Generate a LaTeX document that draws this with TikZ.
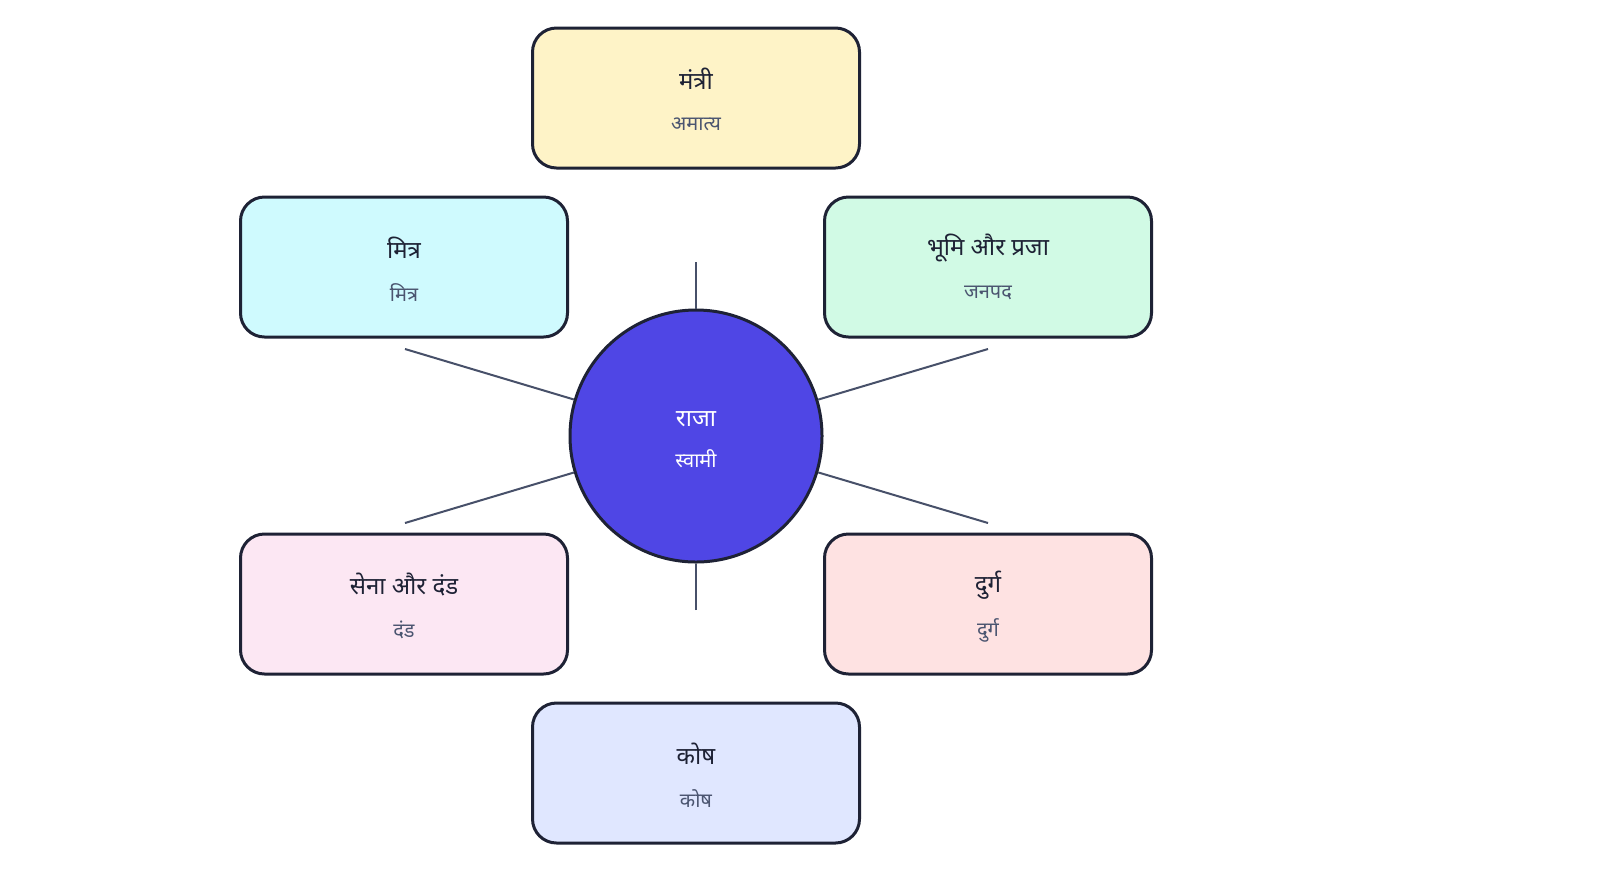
\documentclass[tikz,border=0pt]{standalone}
\usepackage{fontspec}
\newfontfamily\deva[Script=Devanagari]{Noto Sans}
\definecolor{bord}{HTML}{1E2235}
\definecolor{sub}{HTML}{4B5570}
\definecolor{ln}{HTML}{475069}
\definecolor{c1}{HTML}{FEF3C7}
\definecolor{c2}{HTML}{CFFAFE}
\definecolor{c3}{HTML}{D1FAE5}
\definecolor{c4}{HTML}{FCE7F3}
\definecolor{c5}{HTML}{FEE2E2}
\definecolor{c6}{HTML}{E0E7FF}
\definecolor{king}{HTML}{4F46E5}
\begin{document}
\begin{tikzpicture}[x=0.5pt,y=-0.5pt,
 box/.style={draw=bord,line width=1.5pt,rounded corners=12pt,minimum width=163.5pt,minimum height=70pt},
 ttl/.style={font=\deva\bfseries\fontsize{12}{14}\selectfont,text=bord},
 st/.style={font=\deva\bfseries\fontsize{10}{12}\selectfont,text=sub},
 conn/.style={draw=ln,line width=1pt}]
\useasboundingbox[fill=white] (0,0) rectangle (1600,890);
\coordinate (pt) at (696,262);
\coordinate (pb) at (696,610);
\coordinate (pul) at (405,349);
\coordinate (pur) at (988,349);
\coordinate (pll) at (405,523);
\coordinate (plr) at (988,523);
\node[circle,draw=bord,line width=1.5pt,fill=king,minimum size=126pt] (k) at (696,436) {};
\foreach \p in {pt,pb,pul,pur,pll,plr} \draw[conn] (\p) -- (k);
\node[ttl,text=white] (kt) at (696,419) {राजा};
\node[st,text=white] (ks) at (696,459) {स्वामी};
\node[box,fill=c1] (b1) at (696,98) {};
\node[ttl] (b1t) at (696,79) {मंत्री};
\node[st] (b1s) at (696,124) {अमात्य};
\node[box,fill=c2] (b2) at (404,267) {};
\node[ttl] (b2t) at (404,248) {मित्र};
\node[st] (b2s) at (404,293) {मित्र};
\node[box,fill=c3] (b3) at (988,267) {};
\node[ttl] (b3t) at (988,248) {भूमि और प्रजा};
\node[st] (b3s) at (988,293) {जनपद};
\node[box,fill=c4] (b4) at (404,604) {};
\node[ttl] (b4t) at (404,585) {सेना और दंड};
\node[st] (b4s) at (404,630) {दंड};
\node[box,fill=c5] (b5) at (988,604) {};
\node[ttl] (b5t) at (988,585) {दुर्ग};
\node[st] (b5s) at (988,630) {दुर्ग};
\node[box,fill=c6] (b6) at (696,773) {};
\node[ttl] (b6t) at (696,754) {कोष};
\node[st] (b6s) at (696,799) {कोष};
\end{tikzpicture}
\end{document}
